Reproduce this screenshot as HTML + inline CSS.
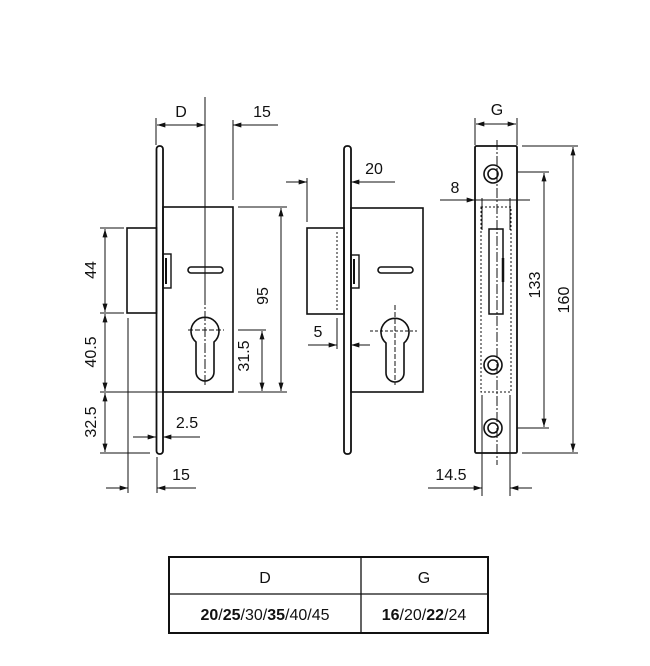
<!DOCTYPE html>
<html><head><meta charset="utf-8"><style>
html,body{margin:0;padding:0;background:#fff;width:650px;height:666px;overflow:hidden}
svg{display:block}
text{font-family:"Liberation Sans",sans-serif;fill:#111}
</style></head><body>
<svg width="650" height="666" viewBox="0 0 650 666" xmlns="http://www.w3.org/2000/svg">
<defs>
<marker id="a" viewBox="0 0 10 6" refX="10" refY="3" markerWidth="9" markerHeight="5" orient="auto-start-reverse" markerUnits="userSpaceOnUse"><path d="M0,0L10,3L0,6z" fill="#111"/></marker>
</defs>
<g fill="none" stroke="#111" stroke-width="1">
<!-- LEFT VIEW -->
<rect x="156.5" y="146" width="6.5" height="308" rx="3" stroke-width="1.8"/>
<rect x="163" y="207" width="70" height="185" stroke-width="1.6"/>
<rect x="127" y="228" width="29.5" height="85" stroke-width="1.6"/>
<rect x="163" y="254" width="8" height="34" stroke-width="1.4"/>
<line x1="166" y1="258" x2="166" y2="284" stroke-width="2"/>
<rect x="188" y="267" width="35" height="6" rx="3" stroke-width="1.6"/>
<path d="M196,342 A14,14 0 1 1 214,342 L214,372 A9,9 0 0 1 196,372 Z" stroke-width="1.6"/>
<line x1="205" y1="97" x2="205" y2="295"/>
<line x1="205" y1="295" x2="205" y2="385" stroke-dasharray="10,2,2,2"/>
<line x1="188" y1="330" x2="224" y2="330" stroke-dasharray="5,2"/>
<line x1="156" y1="118" x2="156" y2="145"/>
<line x1="233" y1="120" x2="233" y2="200"/>
<line x1="157" y1="125" x2="205" y2="125" marker-start="url(#a)" marker-end="url(#a)"/>
<line x1="278" y1="125" x2="233" y2="125" marker-end="url(#a)"/>
<line x1="238" y1="207" x2="287" y2="207"/>
<line x1="238" y1="392" x2="287" y2="392"/>
<line x1="281" y1="208" x2="281" y2="391" marker-start="url(#a)" marker-end="url(#a)"/>
<line x1="238" y1="330" x2="266" y2="330"/>
<line x1="262" y1="331" x2="262" y2="391" marker-start="url(#a)" marker-end="url(#a)"/>
<line x1="100" y1="228" x2="124" y2="228"/>
<line x1="100" y1="313" x2="124" y2="313"/>
<line x1="100" y1="392" x2="163" y2="392"/>
<line x1="100" y1="453" x2="150" y2="453"/>
<line x1="105" y1="229" x2="105" y2="312" marker-start="url(#a)" marker-end="url(#a)"/>
<line x1="105" y1="314" x2="105" y2="391" marker-start="url(#a)" marker-end="url(#a)"/>
<line x1="105" y1="393" x2="105" y2="452" marker-start="url(#a)" marker-end="url(#a)"/>
<line x1="133" y1="437" x2="156" y2="437" marker-end="url(#a)"/>
<line x1="200" y1="437" x2="163" y2="437" marker-end="url(#a)"/>
<line x1="128" y1="318" x2="128" y2="493"/>
<line x1="157" y1="457" x2="157" y2="493"/>
<line x1="106" y1="488" x2="128" y2="488" marker-end="url(#a)"/>
<line x1="196" y1="488" x2="157" y2="488" marker-end="url(#a)"/>

<!-- MIDDLE VIEW -->
<rect x="344" y="146" width="7" height="308" rx="3" stroke-width="1.8"/>
<rect x="351" y="208" width="72" height="184" stroke-width="1.6"/>
<rect x="307" y="228" width="37" height="86" stroke-width="1.6"/>
<line x1="337" y1="232" x2="337" y2="312" stroke-dasharray="2,2"/>
<rect x="351" y="255" width="8" height="33" stroke-width="1.4"/>
<line x1="354" y1="259" x2="354" y2="284" stroke-width="2"/>
<rect x="378" y="267" width="35" height="6" rx="3" stroke-width="1.6"/>
<path d="M386,343 A14,14 0 1 1 404,343 L404,373 A9,9 0 0 1 386,373 Z" stroke-width="1.6"/>
<line x1="395" y1="305" x2="395" y2="385" stroke-dasharray="5,2"/>
<line x1="370" y1="331" x2="417" y2="331" stroke-dasharray="3,2"/>
<line x1="307" y1="178" x2="307" y2="222"/>
<line x1="286" y1="182" x2="307" y2="182" marker-end="url(#a)"/>
<line x1="395" y1="182" x2="351" y2="182" marker-end="url(#a)"/>
<line x1="337" y1="318" x2="337" y2="349"/>
<line x1="308" y1="345" x2="337" y2="345" marker-end="url(#a)"/>
<line x1="370" y1="345" x2="351" y2="345" marker-end="url(#a)"/>

<!-- RIGHT VIEW -->
<rect x="475" y="146" width="42" height="307" rx="1.5" stroke-width="1.8"/>
<rect x="481" y="207" width="30" height="185" stroke-dasharray="2,2"/>
<rect x="489" y="229" width="14" height="85" stroke-width="1.5"/>
<line x1="503" y1="258" x2="503" y2="282" stroke-width="2.5"/>
<line x1="497" y1="140" x2="497" y2="465" stroke-dasharray="10,2,2,2"/>
<line x1="482" y1="198" x2="482" y2="230"/>
<line x1="510" y1="198" x2="510" y2="230"/>
<line x1="482" y1="395" x2="482" y2="496"/>
<line x1="510" y1="395" x2="510" y2="496"/>
<g stroke-width="1.6">
<circle cx="493" cy="174" r="9"/><circle cx="493" cy="174" r="5"/>
<circle cx="493" cy="365" r="9"/><circle cx="493" cy="365" r="5"/>
<circle cx="493" cy="428" r="9"/><circle cx="493" cy="428" r="5"/>
</g>
<line x1="440" y1="200" x2="475" y2="200" marker-end="url(#a)"/>
<line x1="475" y1="200" x2="530" y2="200"/>
<line x1="475" y1="118" x2="475" y2="145"/>
<line x1="517" y1="118" x2="517" y2="145"/>
<line x1="497" y1="124" x2="476" y2="124" marker-end="url(#a)"/>
<line x1="497" y1="124" x2="516" y2="124" marker-end="url(#a)"/>
<line x1="522" y1="146" x2="578" y2="146"/>
<line x1="522" y1="453" x2="578" y2="453"/>
<line x1="573" y1="147" x2="573" y2="452" marker-start="url(#a)" marker-end="url(#a)"/>
<line x1="517" y1="172" x2="549" y2="172"/>
<line x1="517" y1="428" x2="549" y2="428"/>
<line x1="544" y1="173" x2="544" y2="427" marker-start="url(#a)" marker-end="url(#a)"/>
<line x1="428" y1="488" x2="482" y2="488" marker-end="url(#a)"/>
<line x1="532" y1="488" x2="510" y2="488" marker-end="url(#a)"/>

<!-- TABLE -->
<rect x="169" y="557" width="319" height="76" stroke-width="2"/>
<line x1="169" y1="594" x2="488" y2="594" stroke-width="1.3"/>
<line x1="361" y1="557" x2="361" y2="633" stroke-width="1.3"/>
</g>
<g font-size="16">
<text x="181" y="117" text-anchor="middle">D</text>
<text x="262" y="117" text-anchor="middle">15</text>
<text transform="translate(268,296) rotate(-90)" text-anchor="middle">95</text>
<text transform="translate(249,356) rotate(-90)" text-anchor="middle">31.5</text>
<text transform="translate(96,270) rotate(-90)" text-anchor="middle">44</text>
<text transform="translate(96,352) rotate(-90)" text-anchor="middle">40.5</text>
<text transform="translate(96,422) rotate(-90)" text-anchor="middle">32.5</text>
<text x="187" y="428" text-anchor="middle">2.5</text>
<text x="181" y="480" text-anchor="middle">15</text>
<text x="374" y="174" text-anchor="middle">20</text>
<text x="318" y="337" text-anchor="middle">5</text>
<text x="497" y="115" text-anchor="middle">G</text>
<text x="455" y="193" text-anchor="middle">8</text>
<text transform="translate(540,285) rotate(-90)" text-anchor="middle">133</text>
<text transform="translate(569,300) rotate(-90)" text-anchor="middle">160</text>
<text x="451" y="480" text-anchor="middle">14.5</text>
<text x="265" y="583" text-anchor="middle">D</text>
<text x="424" y="583" text-anchor="middle">G</text>
<text x="265" y="620" text-anchor="middle"><tspan font-weight="bold">20</tspan>/<tspan font-weight="bold">25</tspan>/30/<tspan font-weight="bold">35</tspan>/40/45</text>
<text x="424" y="620" text-anchor="middle"><tspan font-weight="bold">16</tspan>/20/<tspan font-weight="bold">22</tspan>/24</text>
</g>
</svg>
</body></html>
